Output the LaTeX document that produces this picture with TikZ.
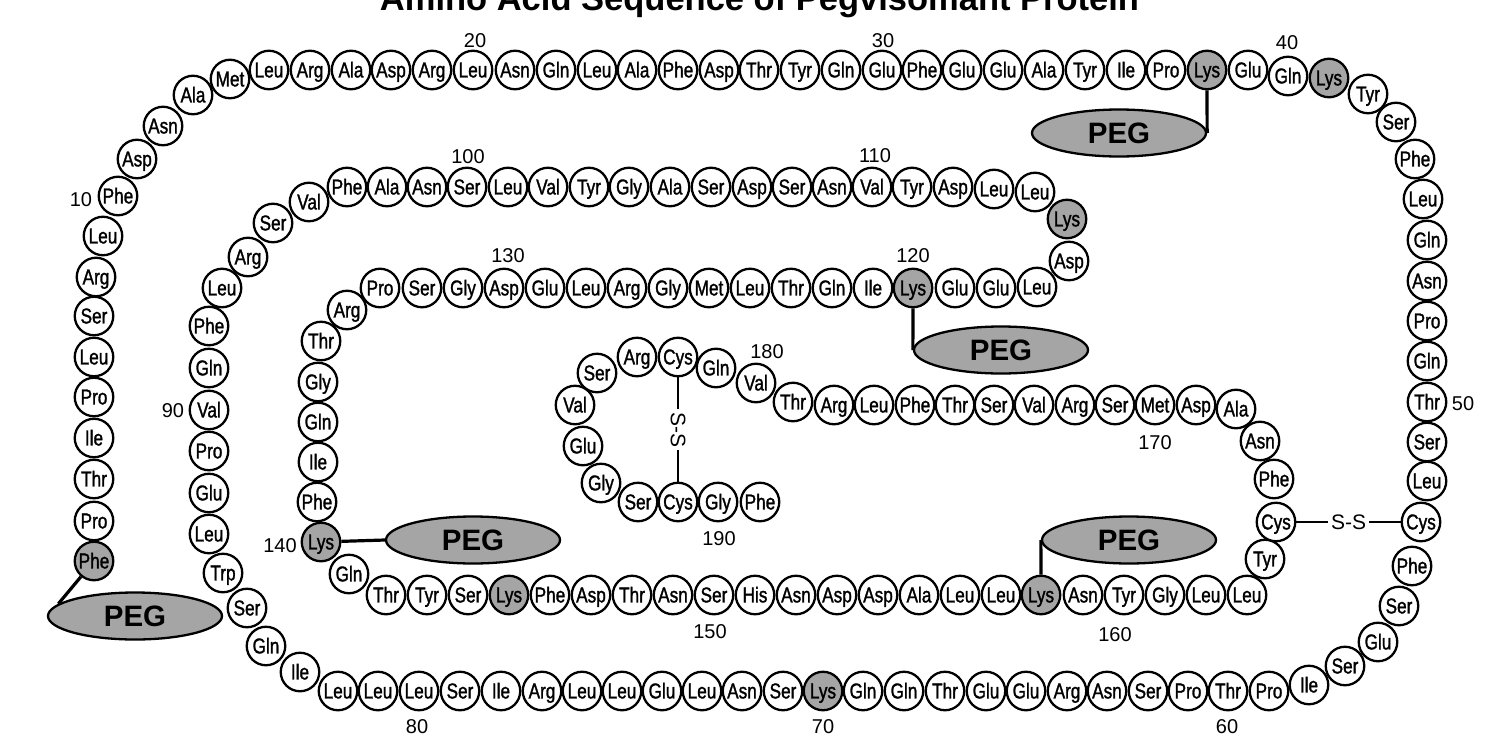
\documentclass[tikz,border=0pt]{standalone}
\usepackage{fontspec}
\usetikzlibrary{shapes.geometric}
\newfontfamily\resfam[FakeStretch=0.8,FakeBold=1.3]{Liberation Sans}
\newfontfamily\plainfam{Liberation Sans}
\newfontfamily\boldfam{Liberation Sans Bold}
\newcommand\resfont{\resfam\fontsize{21.5}{21.5}\selectfont}
\newcommand\numfont{\plainfam\fontsize{20}{20}\selectfont}
\newcommand\pegfont{\boldfam\fontsize{29.5}{30}\selectfont}
\newcommand\ssfont{\plainfam\fontsize{21}{21}\selectfont}
\newcommand\titlefont{\boldfam\fontsize{34.5}{35}\selectfont}
\definecolor{pegfill}{RGB}{165,165,165}
\newcommand\resA[4]{\node[res] (r#1) at (#2,#3) {#4};}
\newcommand\resK[4]{\node[lys] (r#1) at (#2,#3) {#4};}
\newcommand\numlab[3]{\node[num] (l#1) at (#2,#3) {#1};}
\tikzset{
  res/.style={circle, draw, line width=2.3pt, minimum size=38.5pt, inner sep=0pt, fill=white, font=\resfont, text height=14.8pt, text depth=0pt},
  lys/.style={res, fill=pegfill},
  peg/.style={ellipse, draw, line width=2.3pt, fill=pegfill, minimum width=174pt, minimum height=47pt, inner sep=0pt, font=\pegfont, text height=21pt, text depth=0pt},
  num/.style={font=\numfont, inner sep=0pt, text height=14pt, text depth=0pt},
  pegline/.style={line width=3.2pt},
  ssline/.style={line width=1.8pt},
  sstext/.style={font=\ssfont, fill=white, inner sep=3pt}
}
\begin{document}
\begin{tikzpicture}[x=1pt,y=-1pt]
\useasboundingbox (0,0) rectangle (1486,739);
\node[font=\titlefont, anchor=base, inner sep=0pt] (title) at (759.5,10) {Amino Acid Sequence of Pegvisomant Protein};
% residues 1-14
\resK{1}{94}{561}{Phe}
\resA{2}{94}{521}{Pro}
\resA{3}{94}{479}{Thr}
\resA{4}{94}{438}{Ile}
\resA{5}{94}{397}{Pro}
\resA{6}{94}{357}{Leu}
\resA{7}{94}{316}{Ser}
\resA{8}{96}{277}{Arg}
\resA{9}{103}{236}{Leu}
\resA{10}{118}{196}{Phe}
\resA{11}{137}{159}{Asp}
\resA{12}{163}{126}{Asn}
\resA{13}{193}{95}{Ala}
\resA{14}{230}{79}{Met}
% top row
\resA{15}{269}{70}{Leu}
\resA{16}{310}{70}{Arg}
\resA{17}{351}{70}{Ala}
\resA{18}{391}{70}{Asp}
\resA{19}{432}{70}{Arg}
\resA{20}{473}{70}{Leu}
\resA{21}{515}{70}{Asn}
\resA{22}{556}{70}{Gln}
\resA{23}{597}{70}{Leu}
\resA{24}{637}{70}{Ala}
\resA{25}{678}{70}{Phe}
\resA{26}{719}{70}{Asp}
\resA{27}{759}{70}{Thr}
\resA{28}{800}{70}{Tyr}
\resA{29}{841}{70}{Gln}
\resA{30}{882}{70}{Glu}
\resA{31}{922}{70}{Phe}
\resA{32}{962}{70}{Glu}
\resA{33}{1003}{70}{Glu}
\resA{34}{1044}{70}{Ala}
\resA{35}{1085}{70}{Tyr}
\resA{36}{1126}{70}{Ile}
\resA{37}{1166}{70}{Pro}
\resK{38}{1207}{70}{Lys}
\resA{39}{1248}{70}{Glu}
\resA{40}{1288}{76}{Gln}
\resK{41}{1329}{78}{Lys}
\resA{42}{1368}{94}{Tyr}
\resA{43}{1396}{122}{Ser}
\resA{44}{1415}{159}{Phe}
\resA{45}{1423}{199}{Leu}
\resA{46}{1427}{240}{Gln}
\resA{47}{1427}{281}{Asn}
\resA{48}{1427}{321}{Pro}
\resA{49}{1427}{361}{Gln}
\resA{50}{1427}{402}{Thr}
\resA{51}{1427}{442}{Ser}
\resA{52}{1427}{481}{Leu}
\resA{53}{1421}{522}{Cys}
\resA{54}{1412}{566}{Phe}
\resA{55}{1399}{606}{Ser}
\resA{56}{1378}{642}{Glu}
\resA{57}{1345}{666}{Ser}
\resA{58}{1309}{685}{Ile}
% bottom row
\resA{59}{1269}{691}{Pro}
\resA{60}{1228}{691}{Thr}
\resA{61}{1188}{691}{Pro}
\resA{62}{1148}{691}{Ser}
\resA{63}{1107}{691}{Asn}
\resA{64}{1067}{691}{Arg}
\resA{65}{1026}{691}{Glu}
\resA{66}{986}{691}{Glu}
\resA{67}{945}{691}{Thr}
\resA{68}{904}{691}{Gln}
\resA{69}{863}{691}{Gln}
\resK{70}{823}{691}{Lys}
\resA{71}{783}{691}{Ser}
\resA{72}{742}{691}{Asn}
\resA{73}{702}{691}{Leu}
\resA{74}{662}{691}{Glu}
\resA{75}{622}{691}{Leu}
\resA{76}{582}{691}{Leu}
\resA{77}{542}{691}{Arg}
\resA{78}{501}{691}{Ile}
\resA{79}{460}{691}{Ser}
\resA{80}{419}{691}{Leu}
\resA{81}{378}{691}{Leu}
\resA{82}{338}{691}{Leu}
\resA{83}{300}{672}{Ile}
\resA{84}{266}{646}{Gln}
\resA{85}{247}{608}{Ser}
\resA{86}{223}{573}{Trp}
\resA{87}{209}{534}{Leu}
\resA{88}{209}{493}{Glu}
\resA{89}{209}{451}{Pro}
\resA{90}{209}{410}{Val}
\resA{91}{209}{368}{Gln}
\resA{92}{209}{326}{Phe}
\resA{93}{222}{288}{Leu}
\resA{94}{248}{257}{Arg}
\resA{95}{273}{223}{Ser}
\resA{96}{309}{202}{Val}
% second row
\resA{97}{347}{187}{Phe}
\resA{98}{387}{187}{Ala}
\resA{99}{427}{187}{Asn}
\resA{100}{467}{187}{Ser}
\resA{101}{508}{187}{Leu}
\resA{102}{548}{187}{Val}
\resA{103}{589}{187}{Tyr}
\resA{104}{629}{187}{Gly}
\resA{105}{670}{187}{Ala}
\resA{106}{711}{187}{Ser}
\resA{107}{752}{187}{Asp}
\resA{108}{792}{187}{Ser}
\resA{109}{832}{187}{Asn}
\resA{110}{872}{187}{Val}
\resA{111}{912}{187}{Tyr}
\resA{112}{953}{187}{Asp}
\resA{113}{994}{189}{Leu}
\resA{114}{1035}{192}{Leu}
\resK{115}{1067}{219}{Lys}
\resA{116}{1069}{261}{Asp}
\resA{117}{1037}{287}{Leu}
% third row
\resA{118}{996}{288}{Glu}
\resA{119}{955}{288}{Glu}
\resK{120}{913}{288}{Lys}
\resA{121}{873}{288}{Ile}
\resA{122}{832}{288}{Gln}
\resA{123}{791}{288}{Thr}
\resA{124}{750}{288}{Leu}
\resA{125}{709}{288}{Met}
\resA{126}{668}{288}{Gly}
\resA{127}{627}{288}{Arg}
\resA{128}{586}{288}{Leu}
\resA{129}{545}{288}{Glu}
\resA{130}{504}{288}{Asp}
\resA{131}{463}{288}{Gly}
\resA{132}{422}{288}{Ser}
\resA{133}{380}{288}{Pro}
\resA{134}{347}{310}{Arg}
\resA{135}{321}{341}{Thr}
\resA{136}{318}{382}{Gly}
\resA{137}{318}{422}{Gln}
\resA{138}{318}{462}{Ile}
\resA{139}{317}{502}{Phe}
\resK{140}{321}{542}{Lys}
\resA{141}{349}{574}{Gln}
% fourth row
\resA{142}{386}{595}{Thr}
\resA{143}{427}{595}{Tyr}
\resA{144}{468}{595}{Ser}
\resK{145}{509}{595}{Lys}
\resA{146}{550}{595}{Phe}
\resA{147}{591}{595}{Asp}
\resA{148}{632}{595}{Thr}
\resA{149}{673}{595}{Asn}
\resA{150}{714}{595}{Ser}
\resA{151}{755}{595}{His}
\resA{152}{796}{595}{Asn}
\resA{153}{837}{595}{Asp}
\resA{154}{878}{595}{Asp}
\resA{155}{919}{595}{Ala}
\resA{156}{960}{595}{Leu}
\resA{157}{1001}{595}{Leu}
\resK{158}{1041}{595}{Lys}
\resA{159}{1083}{595}{Asn}
\resA{160}{1124}{595}{Tyr}
\resA{161}{1165}{595}{Gly}
\resA{162}{1206}{595}{Leu}
\resA{163}{1247}{595}{Leu}
\resA{164}{1265}{559}{Tyr}
\resA{165}{1276}{522}{Cys}
\resA{166}{1274}{479}{Phe}
\resA{167}{1260}{441}{Asn}
\resA{168}{1236}{409}{Ala}
% fifth row
\resA{169}{1196}{405}{Asp}
\resA{170}{1155}{405}{Met}
\resA{171}{1115}{405}{Ser}
\resA{172}{1075}{405}{Arg}
\resA{173}{1034}{405}{Val}
\resA{174}{994}{405}{Ser}
\resA{175}{955}{405}{Thr}
\resA{176}{915}{405}{Phe}
\resA{177}{874}{405}{Leu}
\resA{178}{834}{405}{Arg}
\resA{179}{793}{402}{Thr}
\resA{180}{756}{383}{Val}
\resA{181}{716}{368}{Gln}
\resA{182}{678}{357}{Cys}
\resA{183}{637}{357}{Arg}
\resA{184}{597}{373}{Ser}
\resA{185}{575}{405}{Val}
\resA{186}{583}{446}{Glu}
\resA{187}{601}{483}{Gly}
\resA{188}{638}{502}{Ser}
\resA{189}{678}{502}{Cys}
\resA{190}{718}{502}{Gly}
\resA{191}{760}{502}{Phe}
% numbers
\numlab{10}{81}{199}
\numlab{20}{475}{40}
\numlab{30}{883}{40}
\numlab{40}{1287}{42}
\numlab{50}{1463}{403}
\numlab{60}{1227}{726}
\numlab{70}{823}{726}
\numlab{80}{417}{726}
\numlab{90}{173}{410}
\numlab{100}{468}{156}
\numlab{110}{875}{155}
\numlab{120}{913}{255}
\numlab{130}{508}{255}
\numlab{140}{280}{545}
\numlab{150}{710}{631}
\numlab{160}{1115}{634}
\numlab{170}{1155}{442}
\numlab{180}{767}{351}
\numlab{190}{719}{538}
% PEG
\node[peg] (peg1) at (1119,133) {PEG};
\node[peg] (peg2) at (1001,350) {PEG};
\node[peg] (peg3) at (473,540) {PEG};
\node[peg] (peg4) at (1129,540) {PEG};
\node[peg] (peg5) at (135,616) {PEG};
\draw[pegline] (r38.south) -- (peg1.east);
\draw[pegline] (r120.south) -- (peg2.west);
\draw[pegline] (r140) -- (peg3.west);
\draw[pegline] (r158.north) -- (peg4.west);
\draw[pegline] (r1) -- (peg5.171);
% disulfide bridges
\draw[ssline] (r182) -- node[sstext, rotate=-90] (ss1) {S-S} (r189);
\draw[ssline] (r165) -- node[sstext] (ss2) {S-S} (r53);
\end{tikzpicture}
\end{document}
